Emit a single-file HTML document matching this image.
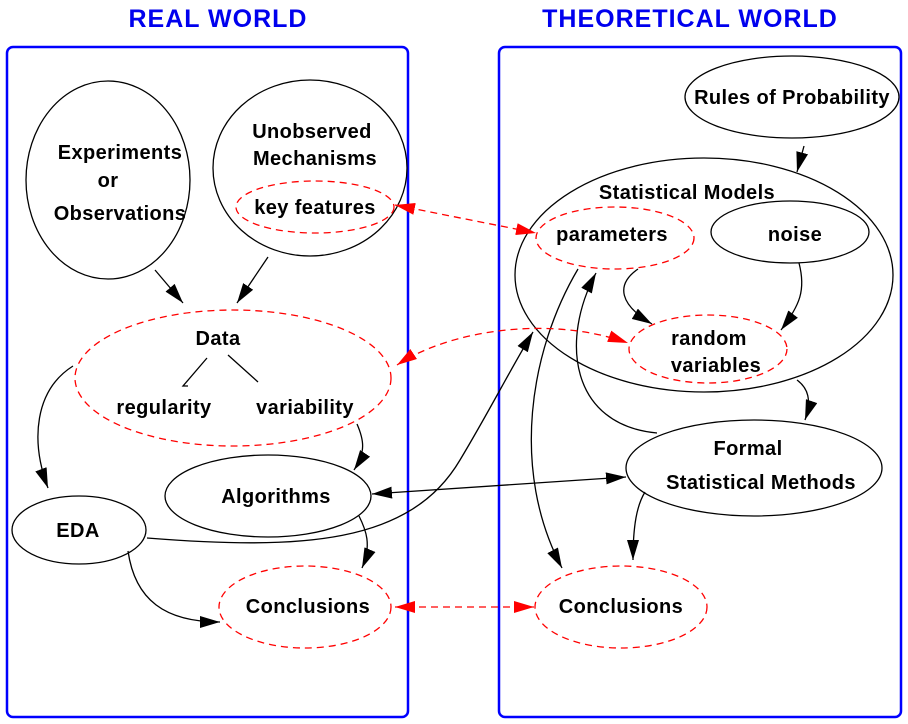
<!DOCTYPE html>
<html><head><meta charset="utf-8"><style>html,body{margin:0;padding:0;background:#fff}svg{display:block}</style></head>
<body>
<svg width="908" height="724" viewBox="0 0 908 724" xmlns="http://www.w3.org/2000/svg" font-family="Liberation Sans, Arial, sans-serif" font-weight="bold">
<defs>
<marker id="ab" viewBox="0 0 20 12" refX="20" refY="6" markerWidth="20" markerHeight="12" markerUnits="userSpaceOnUse" orient="auto-start-reverse"><path d="M0,0 L20,6 L0,12 z" fill="#000"/></marker>
<marker id="ar" viewBox="0 0 20 12" refX="20" refY="6" markerWidth="20" markerHeight="12" markerUnits="userSpaceOnUse" orient="auto-start-reverse"><path d="M0,0 L20,6 L0,12 z" fill="#f00"/></marker>
</defs>
<text x="218" y="27" font-size="25" letter-spacing="1" fill="#0000ee" text-anchor="middle">REAL WORLD</text>
<text x="690" y="27" font-size="25" letter-spacing="1" fill="#0000ee" text-anchor="middle">THEORETICAL WORLD</text>
<rect x="7" y="47" width="401" height="670" rx="6" fill="none" stroke="#00f" stroke-width="2.5"/>
<rect x="499" y="47" width="402" height="670" rx="6" fill="none" stroke="#00f" stroke-width="2.5"/>

<g fill="none" stroke="#000" stroke-width="1.3">
<ellipse cx="108" cy="180" rx="82" ry="99"/>
<ellipse cx="310" cy="168" rx="97" ry="88"/>
<ellipse cx="79" cy="530" rx="67" ry="34"/>
<ellipse cx="268" cy="496" rx="103" ry="41"/>
<ellipse cx="792" cy="97" rx="107" ry="41"/>
<ellipse cx="704" cy="275" rx="189" ry="117"/>
<ellipse cx="790" cy="232" rx="79" ry="31"/>
<ellipse cx="754" cy="468" rx="128" ry="48"/>
</g>
<g fill="none" stroke="#f00" stroke-width="1.3" stroke-dasharray="7,5">
<ellipse cx="315" cy="207" rx="79" ry="26"/>
<ellipse cx="233" cy="378" rx="158" ry="68"/>
<ellipse cx="305" cy="607" rx="86" ry="41"/>
<ellipse cx="615" cy="238" rx="79" ry="31"/>
<ellipse cx="708" cy="349" rx="79" ry="34"/>
<ellipse cx="621" cy="607" rx="86" ry="41"/>
</g>

<g fill="none" stroke="#000" stroke-width="1.3">
<path d="M207,358 L183,386 L188,386"/>
<path d="M228,355 L258,382"/>
<path d="M155,270 L183,303" marker-end="url(#ab)"/>
<path d="M268,257 L237,303" marker-end="url(#ab)"/>
<path d="M73,366 C35,390 30,440 48,488" marker-end="url(#ab)"/>
<path d="M357,424 C364,440 366,452 354,470" marker-end="url(#ab)"/>
<path d="M359,516 C366,530 372,545 362,568" marker-end="url(#ab)"/>
<path d="M128,551 C135,600 165,622 220,622" marker-end="url(#ab)"/>
<path d="M147,538 C300,550 410,545 460,460 C490,410 510,370 533,332" marker-end="url(#ab)"/>
<path d="M372,494 L626,477" marker-start="url(#ab)" marker-end="url(#ab)"/>
<path d="M804,146 L797,172" marker-end="url(#ab)"/>
<path d="M578,269 C530,350 510,470 562,568" marker-end="url(#ab)"/>
<path d="M657,433 C570,425 560,340 596,273" marker-end="url(#ab)"/>
<path d="M638,269 C615,285 620,305 652,324" marker-end="url(#ab)"/>
<path d="M799,263 C806,290 800,305 781,330" marker-end="url(#ab)"/>
<path d="M797,380 C808,388 812,400 805,420" marker-end="url(#ab)"/>
<path d="M645,492 C637,505 633,525 633,560" marker-end="url(#ab)"/>
</g>
<g fill="none" stroke="#f00" stroke-width="1.3" stroke-dasharray="7,5">
<path d="M395,205 L536,233" marker-start="url(#ar)" marker-end="url(#ar)"/>
<path d="M397,365 C450,330 550,315 628,343" marker-start="url(#ar)" marker-end="url(#ar)"/>
<path d="M395,607 L534,607" marker-start="url(#ar)" marker-end="url(#ar)"/>
</g>

<g font-size="20" letter-spacing="0.4" fill="#000" text-anchor="middle">
<text x="120" y="159">Experiments</text>
<text x="108" y="187">or</text>
<text x="120" y="220">Observations</text>
<text x="312" y="138">Unobserved</text>
<text x="315" y="165">Mechanisms</text>
<text x="315" y="214">key features</text>
<text x="218" y="345">Data</text>
<text x="164" y="414">regularity</text>
<text x="305" y="414">variability</text>
<text x="78" y="537">EDA</text>
<text x="276" y="503">Algorithms</text>
<text x="308" y="613">Conclusions</text>
<text x="792" y="104">Rules of Probability</text>
<text x="687" y="199">Statistical Models</text>
<text x="612" y="241">parameters</text>
<text x="795" y="241">noise</text>
<text x="709" y="345">random</text>
<text x="716" y="372">variables</text>
<text x="748" y="455">Formal</text>
<text x="761" y="489">Statistical Methods</text>
<text x="621" y="613">Conclusions</text>
</g>
</svg>
</body></html>
